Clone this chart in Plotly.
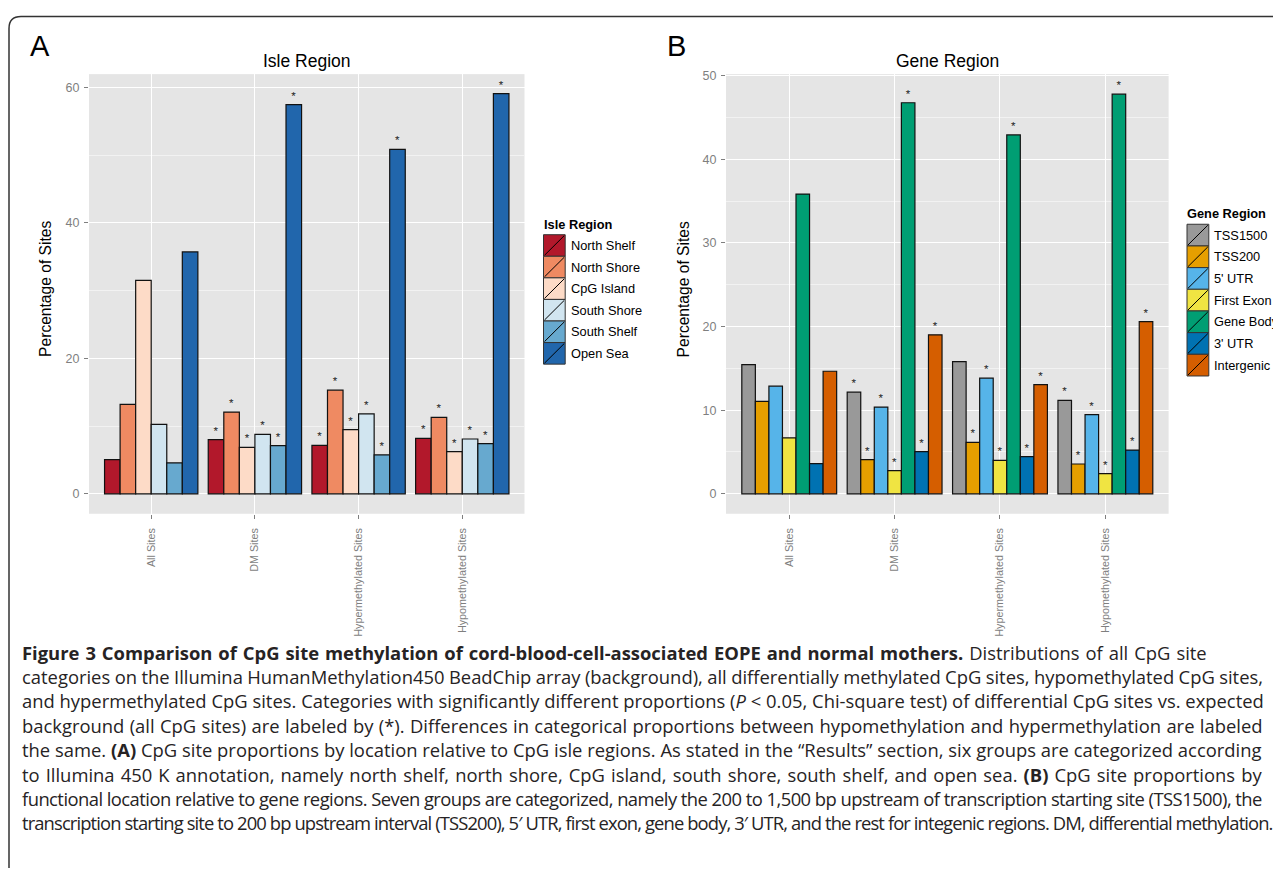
import plotly.graph_objects as go

# page (viewport) size and the default 8px body margin of the html page
PAGE_W, PAGE_H = 1281, 876
OFF = 8
W, H = PAGE_W - OFF, PAGE_H - 2 * OFF  # figure fits inside the viewport without scrolling

# ---------------- data ----------------
groups = ["All Sites", "DM Sites", "Hypermethylated Sites", "Hypomethylated Sites"]

isle_regions = ["North Shelf", "North Shore", "CpG Island", "South Shore", "South Shelf", "Open Sea"]
isle_colors = ["#B2182B", "#EF8A62", "#FDDBC7", "#D1E5F0", "#67A9CF", "#2166AC"]
north_shelf = [5.05, 7.99, 7.16, 8.19]
north_shore = [13.2, 12.06, 15.3, 11.27]
cpg_island = [31.5, 6.86, 9.46, 6.23]
south_shore = [10.25, 8.77, 11.8, 8.09]
south_shelf = [4.56, 7.10, 5.74, 7.40]
open_sea = [35.7, 57.45, 50.83, 59.07]
isle_values = [north_shelf, north_shore, cpg_island, south_shore, south_shelf, open_sea]
isle_sig = [[False, True, True, True]] * 6

gene_regions = ["TSS1500", "TSS200", "5' UTR", "First Exon", "Gene Body", "3' UTR", "Intergenic"]
gene_colors = ["#999999", "#E69F00", "#56B4E9", "#F0E442", "#009E73", "#0072B2", "#D55E00"]
tss1500 = [15.44, 12.15, 15.80, 11.16]
tss200 = [11.05, 4.08, 6.14, 3.56]
utr5 = [12.87, 10.37, 13.82, 9.46]
first_exon = [6.69, 2.77, 4.00, 2.41]
gene_body = [35.83, 46.75, 42.90, 47.78]
utr3 = [3.60, 5.03, 4.43, 5.23]
intergenic = [14.65, 19.00, 13.06, 20.59]
gene_values = [tss1500, tss200, utr5, first_exon, gene_body, utr3, intergenic]
gene_sig = [[False, True, False, True]] + [[False, True, True, True]] * 6

caption_lines = [
    "<b>Figure 3 Comparison of CpG site methylation of cord-blood-cell-associated EOPE and normal mothers.</b> Distributions of all CpG site",
    "categories on the Illumina HumanMethylation450 BeadChip array (background), all differentially methylated CpG sites, hypomethylated CpG sites,",
    "and hypermethylated CpG sites. Categories with significantly different proportions (<i>P</i> &lt; 0.05, Chi-square test) of differential CpG sites vs. expected",
    "background (all CpG sites) are labeled by (*). Differences in categorical proportions between hypomethylation and hypermethylation are labeled",
    "the same. <b>(A)</b> CpG site proportions by location relative to CpG isle regions. As stated in the \u201cResults\u201d section, six groups are categorized according",
    "to Illumina 450 K annotation, namely north shelf, north shore, CpG island, south shore, south shelf, and open sea. <b>(B)</b> CpG site proportions by",
    "functional location relative to gene regions. Seven groups are categorized, namely the 200 to 1,500 bp upstream of transcription starting site (TSS1500), the",
    "transcription starting site to 200 bp upstream interval (TSS200), 5\u2032 UTR, first exon, gene body, 3\u2032 UTR, and the rest for integenic regions. DM, differential methylation.",
]
# per-line spacing tweaks (letter-spacing px, word-spacing px) to mimic the typeset widths
caption_spacing = [(0, 1.2), (0, -0.35), (0, 0.05), (0, 0.6), (0, 0.05), (0, 1.3), (-0.545, 0), (-0.89, 0)]

# ---------------- layout helpers (page pixels -> paper) ----------------
def px(x):
    return (x - OFF) / W

def py(y):
    return 1 - (y - OFF) / H

FONT = "Liberation Sans, Arial, sans-serif"
CAP_FONT = "Open Sans, Noto Sans, sans-serif"

fig = go.Figure()

def add_bars(names, colors, values, sig, xa, ya):
    for name, col, vals, s in zip(names, colors, values, sig):
        fig.add_trace(go.Bar(
            x=groups, y=vals, name=name, xaxis=xa, yaxis=ya,
            marker=dict(color=col, line=dict(color="#111111", width=1.2)),
            text=["*" if f else "" for f in s],
            textposition="outside", cliponaxis=False,
            textfont=dict(family=FONT, size=11.5, color="#222222"),
            constraintext="none",
            showlegend=False, hoverinfo="x+y+name",
        ))

add_bars(isle_regions, isle_colors, isle_values, isle_sig, "x", "y")
add_bars(gene_regions, gene_colors, gene_values, gene_sig, "x2", "y2")

dom_y = [py(511.7), py(69.5)]
domA = [px(89), px(524.5)]
domB = [px(726), px(1168.6)]

def xaxis(dom, anchor):
    return dict(domain=dom, anchor=anchor, type="category", categoryorder="array",
                categoryarray=groups, range=[-0.6, 3.6], showgrid=True,
                gridcolor="#FFFFFF", gridwidth=1.2, ticks="outside", ticklen=4,
                tickcolor="#7F7F7F", tickwidth=1, tickangle=-90,
                tickfont=dict(family=FONT, size=10.8, color="#7F7F7F"),
                ticklabelstandoff=5,
                showline=False, zeroline=False, fixedrange=True)

def yaxis(dom, anchor, rng, dt):
    return dict(domain=dom, anchor=anchor, range=rng, dtick=dt, tick0=0,
                showgrid=True, gridcolor="#FFFFFF", gridwidth=1.2,
                minor=dict(dtick=dt / 2, tick0=0, showgrid=True, gridcolor="#F2F2F2", gridwidth=0.6),
                ticks="outside", ticklen=4, tickcolor="#7F7F7F", tickwidth=1,
                tickfont=dict(family=FONT, size=12.5, color="#7F7F7F"),
                ticklabelstandoff=2,
                showline=False, zeroline=False, fixedrange=True)

fig.update_layout(
    width=W, height=H, margin=dict(l=0, r=0, t=0, b=0),
    paper_bgcolor="white", plot_bgcolor="#E5E5E5",
    barmode="group", bargap=0.1, bargroupgap=0,
    xaxis=xaxis(domA, "y"), yaxis=yaxis(dom_y, "x", [-2.95, 61.95], 20),
    xaxis2=xaxis(domB, "y2"), yaxis2=yaxis(dom_y, "x2", [-2.39, 50.17], 10),
    font=dict(family=FONT),
)

ann = []
shapes = []

# panel letters and titles
ann.append(dict(text="A", x=px(28), y=py(41), xanchor="left", yanchor="middle",
                font=dict(family=FONT, size=29, color="black")))
ann.append(dict(text="B", x=px(665), y=py(41), xanchor="left", yanchor="middle",
                font=dict(family=FONT, size=29, color="black")))
ann.append(dict(text="Isle Region", x=(domA[0] + domA[1]) / 2, y=py(56), xanchor="center",
                yanchor="middle", font=dict(family=FONT, size=17.5, color="black")))
ann.append(dict(text="Gene Region", x=(domB[0] + domB[1]) / 2, y=py(56), xanchor="center",
                yanchor="middle", font=dict(family=FONT, size=17.5, color="black")))
for xc in (45.5, 683):
    ann.append(dict(text="Percentage of Sites", x=px(xc), y=py(286), textangle=-90,
                    xanchor="center", yanchor="middle",
                    font=dict(family=FONT, size=15.6, color="black")))

# custom legends (ggplot-style keys with slash)
def legend(title, names, colors, x0, title_y, top, step, size, label_x, fs):
    ann.append(dict(text="<b>" + title + "</b>", x=px(x0 - 2), y=py(title_y), xanchor="left",
                    yanchor="middle", font=dict(family=FONT, size=fs, color="black")))
    for i, (n, c) in enumerate(zip(names, colors)):
        t = top + i * step
        b = t + size
        shapes.append(dict(type="rect", xref="paper", yref="paper", x0=px(x0), x1=px(x0 + size),
                           y0=py(b), y1=py(t), fillcolor=c, line=dict(color="#333333", width=1)))
        shapes.append(dict(type="line", xref="paper", yref="paper", x0=px(x0 + 1), x1=px(x0 + size - 1),
                           y0=py(b - 1), y1=py(t + 1), line=dict(color="black", width=1)))
        ann.append(dict(text=n, x=px(label_x), y=py((t + b) / 2), xanchor="left", yanchor="middle",
                        font=dict(family=FONT, size=fs, color="black")))

legend("Isle Region", isle_regions, isle_colors, 543.5, 221, 231, 21.7, 21.7, 568.5, 12.8)
legend("Gene Region", gene_regions, gene_colors, 1187, 210, 220.5, 21.8, 21.8, 1212, 12.8)

# caption
for i, (line, (ls, ws)) in enumerate(zip(caption_lines, caption_spacing)):
    styled = f'<span style="letter-spacing:{ls}px;word-spacing:{ws}px">{line}</span>'
    ann.append(dict(text=styled, x=px(20), y=py(651 + i * 24.5), xanchor="left", yanchor="middle",
                    font=dict(family=CAP_FONT, size=18.4, color="#262324")))

for a in ann:
    a.setdefault("xref", "paper")
    a.setdefault("yref", "paper")
    a.setdefault("showarrow", False)

# outer rounded border
r = 12
x0b, y0b = 9, 11.5
path = (f"M {px(x0b)},{py(PAGE_H + 20)} L {px(x0b)},{py(y0b + r)} "
        f"Q {px(x0b)},{py(y0b)} {px(x0b + r)},{py(y0b)} L {px(PAGE_W + 20)},{py(y0b)}")
shapes.append(dict(type="path", xref="paper", yref="paper", path=path,
                   line=dict(color="#333333", width=1.5)))

fig.update_layout(annotations=ann, shapes=shapes)
fig.write_html("out.html")
